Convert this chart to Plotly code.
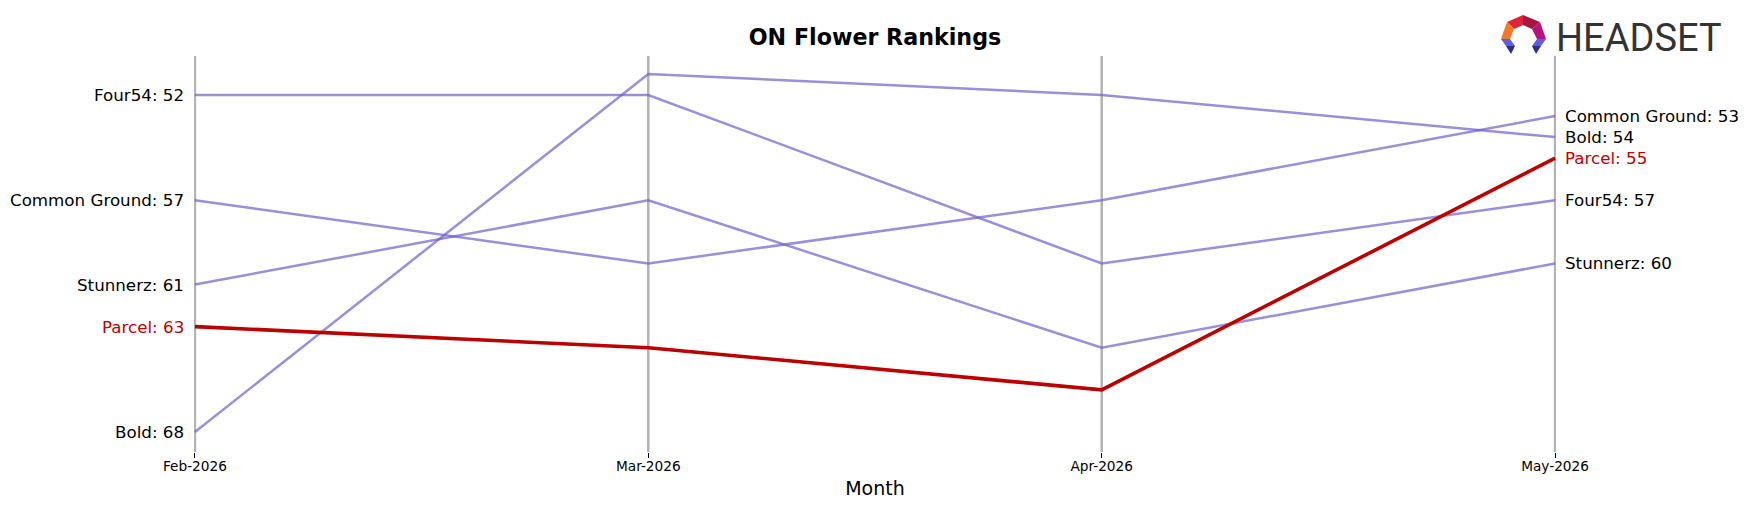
import plotly.graph_objects as go

months = ["Feb-2026", "Mar-2026", "Apr-2026", "May-2026"]
brands = ["Four54", "Bold", "Common Ground", "Stunnerz", "Parcel"]
four54 = [52, 52, 60, 57]
bold = [68, 51, 52, 54]
common_ground = [57, 60, 57, 53]
stunnerz = [61, 57, 64, 60]
parcel = [63, 64, 66, 55]
series = {"Four54": four54, "Bold": bold, "Common Ground": common_ground,
          "Stunnerz": stunnerz, "Parcel": parcel}
highlight = "Parcel"

W, H = 1749, 507
L, R, T, B = 194, 1556, 56, 452
FONT = "DejaVu Sans"
PURPLE = "rgba(112,94,204,0.7)"
RED = "#bb0000"
LABEL_RED = "#c00000"

xs = list(range(len(months)))
fig = go.Figure()
for name in brands:
    if name == highlight:
        continue
    fig.add_trace(go.Scatter(x=xs, y=series[name], mode="lines",
                             line=dict(color=PURPLE, width=2.5), showlegend=False,
                             hoverinfo="skip"))
fig.add_trace(go.Scatter(x=xs, y=series[highlight], mode="lines",
                         line=dict(color=RED, width=3.6), showlegend=False,
                         hoverinfo="skip"))

# vertical month lines
for i in xs:
    fig.add_shape(type="line", xref="x", yref="paper", x0=i, x1=i, y0=0, y1=1,
                  line=dict(color="#b3b3b3", width=2.5), layer="below")

ann = []
for name in brands:
    vals = series[name]
    col = LABEL_RED if name == highlight else "black"
    ann.append(dict(x=0, y=vals[0], xref="x", yref="y", text=f"{name}: {vals[0]}",
                    xanchor="right", yanchor="middle", xshift=-9, showarrow=False,
                    font=dict(family=FONT, size=16.7, color=col)))
    ann.append(dict(x=3, y=vals[-1], xref="x", yref="y", text=f"{name}: {vals[-1]}",
                    xanchor="left", yanchor="middle", xshift=8, showarrow=False,
                    font=dict(family=FONT, size=16.7, color=col)))

def px(x):
    return (x - L) / (R - L)

def py(y):
    return (B - y) / (B - T)

# logo text
ann.append(dict(x=px(1554), y=py(38), xref="paper", yref="paper", text="HEADSET",
                xanchor="left", yanchor="middle", showarrow=False,
                font=dict(family="Roboto", size=38, color="#333333")))

def poly(points, color):
    d = "M " + " L ".join(f"{px(a):.5f},{py(b):.5f}" for a, b in points) + " Z"
    fig.add_shape(type="path", xref="paper", yref="paper", path=d,
                  fillcolor=color, line=dict(width=0))

poly([(1507, 22), (1523, 15), (1523, 25), (1514, 29)], "#e0223a")
poly([(1523, 15), (1540, 22), (1532, 29), (1523, 25)], "#a8153f")
poly([(1507, 22), (1514, 29), (1510, 39), (1501, 39)], "#f47a22")
poly([(1540, 22), (1546, 39), (1537, 39), (1532, 29)], "#b8127e")
poly([(1501, 39), (1510, 39), (1515, 46), (1506, 46)], "#5e5ed8")
poly([(1506, 46), (1515, 46), (1511, 54)], "#2b2f8c")
poly([(1537, 39), (1546, 39), (1541, 46), (1532, 46)], "#5e5ed8")
poly([(1532, 46), (1541, 46), (1536, 54)], "#2b2f8c")

fig.update_layout(
    width=W, height=H,
    margin=dict(l=L, r=W - R, t=T, b=H - B),
    plot_bgcolor="white", paper_bgcolor="white",
    title=dict(text="<b>ON Flower Rankings</b>", x=0.5, xref="paper",
               y=1 - 37 / H, yref="container", xanchor="center", yanchor="middle",
               font=dict(family=FONT, size=22.2, color="black")),
    annotations=ann,
    xaxis=dict(range=[-0.002, 3.002], tickvals=xs, ticktext=months, showgrid=False,
               zeroline=False, showline=False, ticks="outside", ticklen=5,
               tickcolor="black", tickwidth=1, ticklabelstandoff=-3,
               tickfont=dict(family=FONT, size=13.7, color="black"),
               title=dict(text="Month", font=dict(family=FONT, size=19, color="black"),
                          standoff=8)),
    yaxis=dict(range=[68.95, 50.15], showgrid=False, zeroline=False, showline=False,
               showticklabels=False, ticks=""),
)

fig.write_html("out.html")
